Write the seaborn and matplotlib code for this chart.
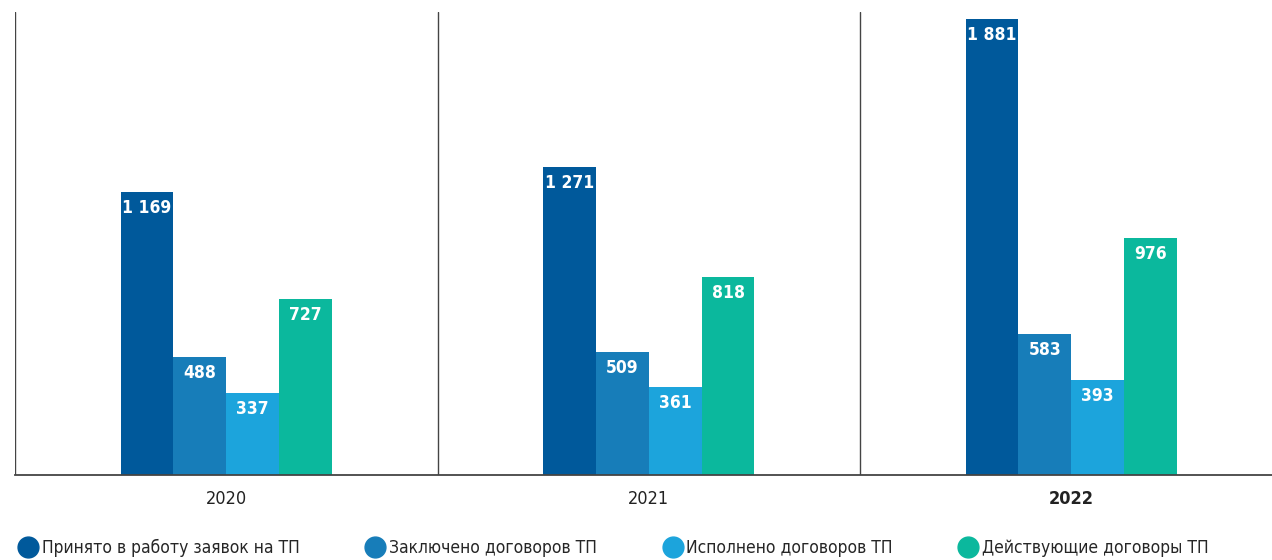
import pandas as pd
import matplotlib.pyplot as plt
import seaborn as sns
from matplotlib.lines import Line2D

years = ['2020', '2021', '2022']
series = ['Принято в работу заявок на ТП', 'Заключено договоров ТП',
          'Исполнено договоров ТП', 'Действующие договоры ТП']
accepted = [1169, 1271, 1881]
concluded = [488, 509, 583]
executed = [337, 361, 393]
active = [727, 818, 976]

colors = ['#00599B', '#177DB9', '#1CA4DC', '#0BB89D']

rows = []
for name, vals in zip(series, [accepted, concluded, executed, active]):
    for y, v in zip(years, vals):
        rows.append({'year': y, 'series': name, 'value': v})
df = pd.DataFrame(rows)

sns.set_style('white')
plt.rcParams['font.family'] = ['DejaVu Sans']
plt.rcParams['font.stretch'] = 'condensed'

fig = plt.figure(figsize=(12.72, 5.6), dpi=100)
ax = fig.add_axes([15 / 1272, 85 / 560, 1257 / 1272, 463 / 560])

sns.barplot(data=df, x='year', y='value', hue='series', order=years,
            hue_order=series, palette=colors, width=0.5, gap=0,
            saturation=1, legend=False, linewidth=0, ax=ax)

def fmt(v):
    return f'{int(round(v)):,}'.replace(',', ' ')

for cont in ax.containers:
    ax.bar_label(cont, labels=[fmt(b.get_height()) for b in cont],
                 padding=-18, color='white', fontweight='bold', fontsize=12.5)

ax.set_xlim(-0.5, 2.475)
ax.set_ylim(0, 1910)
ax.set_yticks([])
ax.set_xlabel('')
ax.set_ylabel('')
for s in ['top', 'right', 'left']:
    ax.spines[s].set_visible(False)
ax.spines['bottom'].set_color('#444444')
ax.spines['bottom'].set_linewidth(1.3)
for xv in [-0.5, 0.5, 1.5]:
    ax.axvline(xv, color='#444444', lw=1.0)

ax.tick_params(axis='x', length=0, pad=11, labelsize=13, labelcolor='#222222')
ax.set_xticks(range(3))
ax.set_xticklabels(years)
ax.get_xticklabels()[2].set_fontweight('bold')

handles = [Line2D([], [], marker='o', linestyle='', markersize=15,
                  markerfacecolor=c, markeredgecolor=c) for c in colors]
fig.legend(handles, series, loc='lower left', bbox_to_anchor=(0.003, -0.022),
           ncol=4, frameon=False, fontsize=12.5, handletextpad=0.3,
           columnspacing=3.85, handlelength=1.0)

fig.savefig('out.png', dpi=100)
